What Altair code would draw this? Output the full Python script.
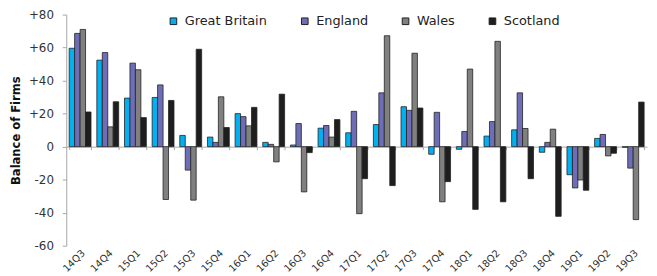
import altair as alt
import pandas as pd

quarters = ["14Q3", "14Q4", "15Q1", "15Q2", "15Q3", "15Q4", "16Q1", "16Q2", "16Q3", "16Q4",
            "17Q1", "17Q2", "17Q3", "17Q4", "18Q1", "18Q2", "18Q3", "18Q4", "19Q1", "19Q2", "19Q3"]
great_britain = [59.6, 52.4, 29.4, 29.8, 6.8, 5.8, 20.0, 2.6, 1.0, 11.2,
                 8.4, 13.4, 24.2, -4.6, -1.6, 6.4, 10.2, -3.4, -17.0, 5.0, -0.4]
england = [68.6, 57.0, 50.6, 37.4, -14.2, 2.6, 18.2, 1.4, 14.0, 12.8,
           21.4, 32.6, 22.0, 20.8, 9.2, 15.2, 32.6, 2.6, -25.0, 7.4, -13.0]
wales = [71.0, 12.0, 46.6, -32.0, -32.4, 30.2, 12.6, -9.2, -27.4, 5.8,
         -40.6, 67.2, 56.6, -33.4, 47.0, 63.8, 11.0, 10.6, -20.2, -5.6, -44.2]
scotland = [21.0, 27.2, 17.6, 28.0, 59.0, 11.6, 23.8, 31.8, -3.6, 16.4,
            -19.4, -23.6, 23.4, -21.2, -38.0, -33.4, -19.4, -42.2, -26.4, -4.0, 27.0]
series = ["Great Britain", "England", "Wales", "Scotland"]
colors = ["#00B0F0", "#6E6EB8", "#808080", "#1E1E1E"]
y_ticks = [-60, -40, -20, 0, 20, 40, 60, 80]

rows = []
for i, q in enumerate(quarters):
    for s, vals in zip(series, [great_britain, england, wales, scotland]):
        rows.append({"quarter": q, "series": s, "value": vals[i]})
df = pd.DataFrame(rows)
qdf = pd.DataFrame({"quarter": quarters, "zero": [0] * len(quarters)})

bars = alt.Chart(df).mark_bar(stroke="#222222", strokeWidth=0.8).encode(
    x=alt.X("quarter:N", sort=quarters,
            scale=alt.Scale(paddingInner=0.21, paddingOuter=0.105),
            axis=alt.Axis(title=None, orient="bottom", labelAngle=-45, domain=False, ticks=False,
                          labelPadding=2, labelFont="DejaVu Sans", labelFontSize=10,
                          labelColor="#333333")),
    xOffset=alt.XOffset("series:N", sort=series,
                        scale=alt.Scale(paddingInner=0, paddingOuter=0)),
    y=alt.Y("value:Q", scale=alt.Scale(domain=[-60, 80], nice=False),
            axis=alt.Axis(title="Balance of Firms", orient="left", values=y_ticks, grid=False,
                          labelOverlap=False,
                          labelExpr="datum.value > 0 ? '+' + datum.value : '' + datum.value",
                          domainColor="#A6A6A6", tickColor="#A6A6A6", tickSize=4,
                          labelPadding=9, labelFont="DejaVu Sans", labelFontSize=12,
                          labelColor="#333333",
                          titleFont="Liberation Sans Narrow, DejaVu Sans Condensed",
                          titleFontSize=13, titleFontWeight="bold", titleColor="#111111",
                          titlePadding=6)),
    color=alt.Color("series:N", sort=series,
                    scale=alt.Scale(domain=series, range=colors),
                    legend=alt.Legend(title=None, orient="none", legendX=102, legendY=0,
                                      direction="horizontal",
                                      symbolType="square",
                                      symbolSize=45, symbolStrokeColor="#222222",
                                      symbolStrokeWidth=1, symbolOpacity=1,
                                      labelFont="DejaVu Sans", labelFontSize=13,
                                      labelColor="#222222", labelOffset=5,
                                      columnPadding=31, padding=0)),
)

zero_axis = alt.Chart(qdf).mark_tick(opacity=0).encode(
    x=alt.X("quarter:N", sort=quarters,
            axis=alt.Axis(title=None, orient="bottom", labels=False, domain=True, ticks=True,
                          tickBand="extent", tickSize=3, offset=-100.29,
                          domainColor="#A6A6A6", tickColor="#A6A6A6")),
    y=alt.Y("zero:Q", axis=None),
)

chart = alt.layer(bars, zero_axis).resolve_axis(x="independent", y="independent").properties(
    width=588, height=234,
    autosize=alt.AutoSizeParams(type="none"),
    padding={"left": 59, "top": 5, "right": 2, "bottom": 29},
).configure_view(stroke=None)

chart.save("out.html", embed_options={"renderer": "svg", "actions": False})
